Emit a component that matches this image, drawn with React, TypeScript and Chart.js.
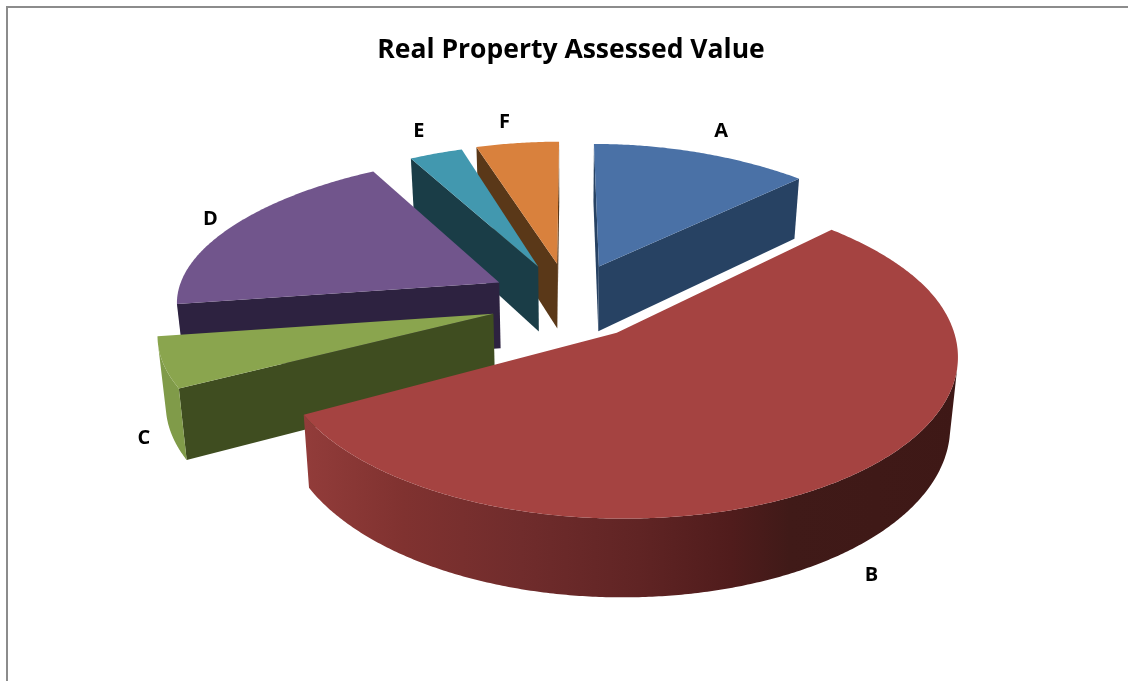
import { useEffect, useRef } from "react";
import { Chart, registerables } from "chart.js";

Chart.register(...registerables);

const titleText = "Real Property Assessed Value";
const categories = ["A", "B", "C", "D", "E", "F"];
const shares = [12.8, 54.3, 5.5, 19.2, 3.2, 5.0];
const topColors = ["#4A71A6", "#A54341", "#8AA54E", "#71558C", "#4298AF", "#D9813D"];
const sideColors = ["#274263", "#A54341", "#3F4D20", "#2D2240", "#1A3D47", "#5A3818"];
const rimColors = ["#2F4C70", "#A54341", "#809B49", "#3A2B52", "#235664", "#7A4A1E"];
const labelNudges = [[12, -21], [26, 95], [-17, 69], [-14, -9], [-6, -22], [-9, -21]];
// per-slice fine tuning of the exploded position and radius: du, dv, ru, rv
const sliceTweaks = [
  [0, 0, 1, 1],
  [0, -0.06, 1, 1.06],
  [0, -0.04, 1, 1],
  [0, -0.03, 0.985, 1],
  [0, 0, 0.98, 1],
  [0, 0, 1, 1],
];

const CAM = { x: 569, y: 305.5, ax: 330, ay: 146, k: 0.12, kFar: 0.055, ex: 0.24, ey: 0.3, depth: 67, shrink: 0.98 };

function project(u: number, v: number, low: boolean) {
  const w = 1 - CAM.k * v;
  const wx = v < 0 ? w + CAM.kFar * v * v : w;
  const sx = (CAM.ax * u) / wx;
  const sy = (CAM.ay * v) / w;
  return {
    x: CAM.x + sx * (low ? CAM.shrink : 1),
    y: CAM.y + sy + (low ? CAM.depth / w : 0),
  };
}

type P = { x: number; y: number };

function poly(ctx: CanvasRenderingContext2D, pts: P[], fill: string | CanvasGradient) {
  ctx.beginPath();
  pts.forEach((p, i) => (i ? ctx.lineTo(p.x, p.y) : ctx.moveTo(p.x, p.y)));
  ctx.closePath();
  ctx.fillStyle = fill;
  ctx.fill();
}

function area(pts: P[]) {
  let a = 0;
  pts.forEach((p, i) => {
    const q = pts[(i + 1) % pts.length];
    a += p.x * q.y - q.x * p.y;
  });
  return a / 2;
}

function labelAnchor(mid: number) {
  const u = (CAM.ex + 1) * Math.sin(mid);
  const v = -(CAM.ey + 1) * Math.cos(mid);
  const w = 1 - CAM.k * v;
  return { x: CAM.x + (CAM.ax * u) / w, y: CAM.y + (CAM.ay * v) / w };
}

const pie3d = {
  id: "pie3d",
  beforeDatasetsDraw(chart: any) {
    const ctx: CanvasRenderingContext2D = chart.ctx;
    const arcs = chart.getDatasetMeta(0).data;
    const items = arcs.map((arc: any, i: number) => {
      const a0 = arc.startAngle + Math.PI / 2;
      const a1 = arc.endAngle + Math.PI / 2;
      const mid = (a0 + a1) / 2;
      const [du, dv, ru, rv] = sliceTweaks[i];
      const cu = CAM.ex * Math.sin(mid) + du;
      const cv = -CAM.ey * Math.cos(mid) + dv;
      return { i, a0, a1, mid, cu, cv, ru, rv };
    });
    const order = [...items].sort((p: any, q: any) => p.cv - q.cv);
    const redGrad = ctx.createLinearGradient(305, 0, 960, 0);
    redGrad.addColorStop(0, "rgb(146,60,58)");
    redGrad.addColorStop(0.15, "rgb(128,50,48)");
    redGrad.addColorStop(0.33, "rgb(112,44,44)");
    redGrad.addColorStop(0.51, "rgb(96,36,36)");
    redGrad.addColorStop(0.65, "rgb(80,28,28)");
    redGrad.addColorStop(0.74, "rgb(64,26,24)");
    redGrad.addColorStop(1, "rgb(62,24,22)");
    for (const s of order) {
      const steps = Math.max(12, Math.ceil(((s.a1 - s.a0) * 360) / Math.PI));
      const rim: number[][] = [];
      for (let n = 0; n <= steps; n++) {
        const t = s.a0 + ((s.a1 - s.a0) * n) / steps;
        rim.push([s.cu + s.ru * Math.sin(t), s.cv - s.rv * Math.cos(t)]);
      }
      const apexT = project(s.cu, s.cv, false);
      const apexL = project(s.cu, s.cv, true);
      [rim[0], rim[rim.length - 1]].forEach((e, idx) => {
        const t = project(e[0], e[1], false);
        const l = project(e[0], e[1], true);
        const q = idx === 0 ? [apexT, t, l, apexL] : [t, apexT, apexL, l];
        if (area(q) < 0) poly(ctx, q, sideColors[s.i]);
      });
      const upper: P[] = [];
      const lower: P[] = [];
      for (let n = 0; n < rim.length - 1; n++) {
        const p1 = project(rim[n][0], rim[n][1], false);
        const p2 = project(rim[n + 1][0], rim[n + 1][1], false);
        const p3 = project(rim[n + 1][0], rim[n + 1][1], true);
        const p4 = project(rim[n][0], rim[n][1], true);
        if (area([p1, p2, p3, p4]) < 0) {
          if (!upper.length) {
            upper.push(p1);
            lower.push(p4);
          }
          upper.push(p2);
          lower.push(p3);
        }
      }
      if (upper.length) poly(ctx, [...upper, ...lower.reverse()], s.i === 1 ? redGrad : rimColors[s.i]);
      const face = [apexT, ...rim.map((r) => project(r[0], r[1], false))];
      poly(ctx, face, topColors[s.i]);
    }
    ctx.save();
    ctx.fillStyle = "#000";
    ctx.font = "bold 20px 'Open Sans'";
    ctx.textAlign = "center";
    ctx.textBaseline = "middle";
    for (const s of items) {
      const base = labelAnchor(s.mid);
      ctx.fillText(categories[s.i], base.x + labelNudges[s.i][0], base.y + labelNudges[s.i][1]);
    }
    ctx.restore();
    return false;
  },
};

export default function App() {
  const ref = useRef<HTMLCanvasElement | null>(null);
  useEffect(() => {
    if (!ref.current) return;
    const chart = new Chart(ref.current, {
      type: "pie",
      data: {
        labels: categories,
        datasets: [{ data: shares, backgroundColor: topColors, borderWidth: 0 }],
      },
      options: {
        animation: false,
        responsive: false,
        layout: { padding: { left: 14 } },
        plugins: {
          legend: { display: false },
          tooltip: { enabled: false },
          title: {
            display: true,
            text: titleText,
            color: "#000",
            font: { family: "'Open Sans'", size: 26.5, weight: "bold" },
            padding: { top: 35, bottom: 10 },
          },
        },
      },
      plugins: [pie3d],
    } as any);
    return () => chart.destroy();
  }, []);
  return (
    <div style={{ position: "absolute", left: 0, top: 0, width: 1128, height: 681, overflow: "hidden", background: "#fff" }}>
      <div style={{ position: "absolute", left: 6, top: 6, right: -10, bottom: -10, border: "2px solid #8c8c8c" }} />
      <canvas ref={ref} width={1128} height={681} style={{ position: "absolute", left: 0, top: 0, display: "block" }} />
    </div>
  );
}
